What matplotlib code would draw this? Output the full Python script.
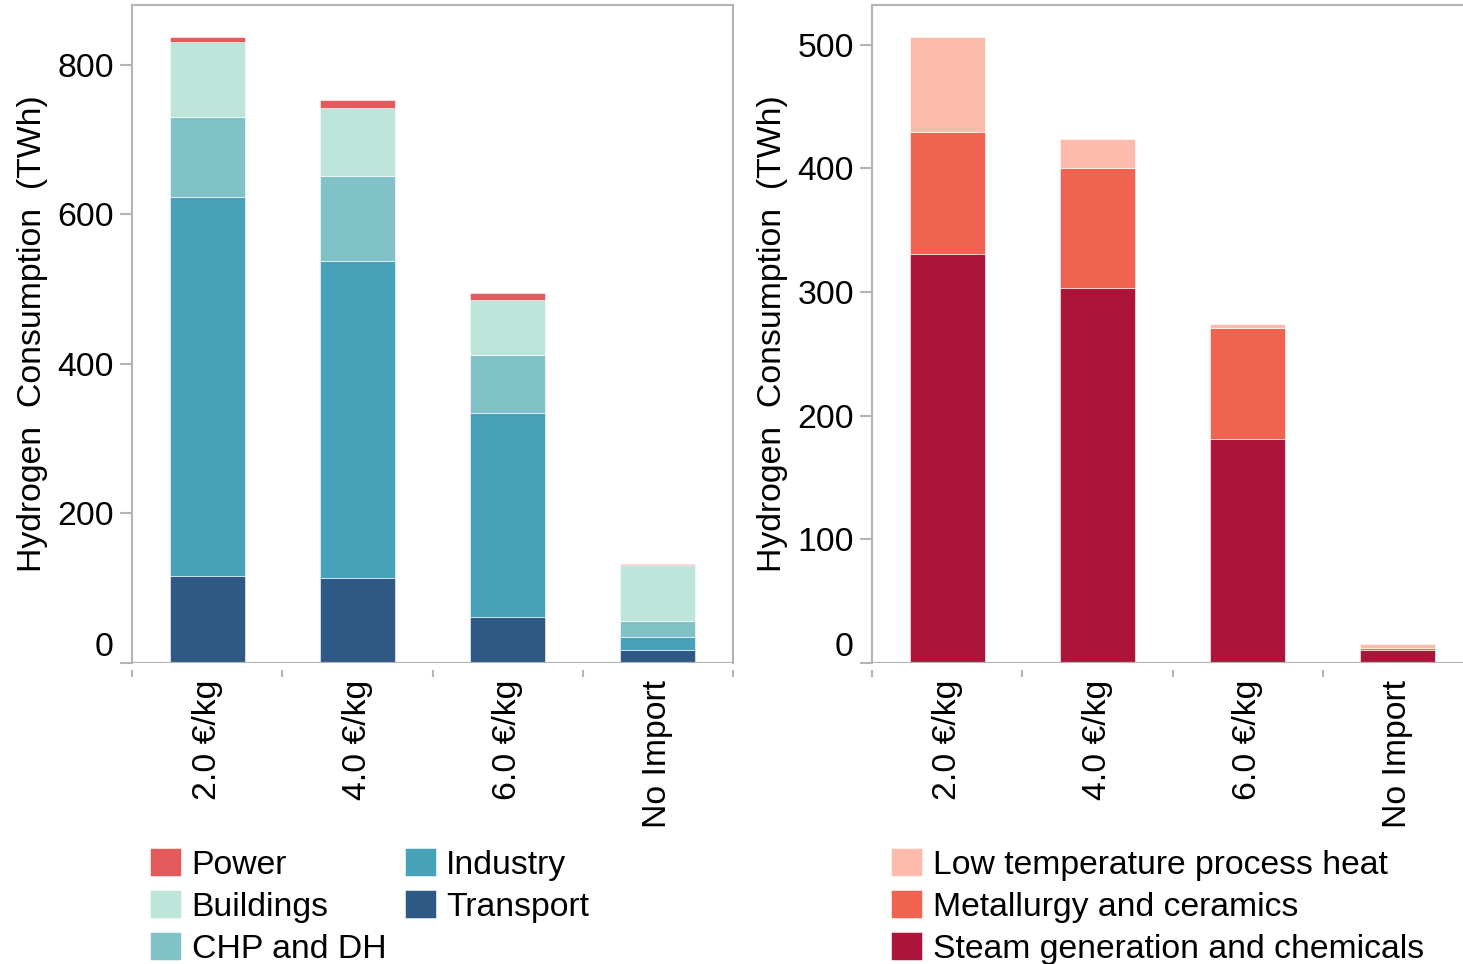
import matplotlib.pyplot as plt
import numpy as np

plt.rcParams['font.family'] = ['Liberation Sans', 'DejaVu Sans']

# Import price scenarios
scenarios = ['2.0 €/kg', '4.0 €/kg', '6.0 €/kg', 'No Import']

# Hydrogen consumption by sector (TWh)
transport = [116, 114, 62, 17]
industry = [507, 424, 272, 18]
chp_dh = [107, 113, 78, 21]
buildings = [101, 91, 74, 75]
power = [6, 11, 9, 2]

# Industrial hydrogen use by application (TWh)
steam_chem = [331, 303, 181, 10.5]
metallurgy = [98, 97, 90, 2]
low_temp = [77, 24, 3, 3]

sector_series = [
    ('Transport', transport, '#2E5984'),
    ('Industry', industry, '#47A2B9'),
    ('CHP and DH', chp_dh, '#80C2C8'),
    ('Buildings', buildings, '#BDE5D9'),
    ('Power', power, '#E35A5C'),
]
industry_series = [
    ('Steam generation and chemicals', steam_chem, '#AD1439'),
    ('Metallurgy and ceramics', metallurgy, '#F06350'),
    ('Low temperature process heat', low_temp, '#FDBBAE'),
]

W, H = 1463, 964
fig = plt.figure(figsize=(W / 100, H / 100), dpi=100)
ax1 = fig.add_axes([132 / W, 1 - 663 / H, (733 - 132) / W, (663 - 5) / H])
ax2 = fig.add_axes([872 / W, 1 - 663 / H, (1473 - 872) / W, (663 - 5) / H])

grey = '#b4b4b4'
fs = 24.3


def stacked(ax, series):
    x = np.arange(len(scenarios))
    bottom = np.zeros(len(scenarios))
    handles = {}
    for name, vals, color in series:
        b = ax.bar(x, vals, 0.5, bottom=bottom, color=color,
                   edgecolor='white', linewidth=0.4, label=name)
        handles[name] = b
        bottom += np.array(vals)
    return handles


def style(ax, ymax, yticks):
    ax.set_xlim(-0.5, 3.5)
    ax.set_ylim(0, ymax)
    for s in ['left', 'top', 'right']:
        ax.spines[s].set_color(grey)
        ax.spines[s].set_linewidth(1.5)
    ax.spines['bottom'].set_position(('outward', 5))
    ax.spines['bottom'].set_visible(False)
    ax.axhline(0, color=grey, lw=1.6, zorder=3)
    ax.axhline(0, color='white', lw=0.6, ls=(0, (1, 2)), zorder=3)

    ax.set_xticks(np.arange(-0.5, 3.6, 1.0))
    ax.set_xticklabels([])
    ax.set_xticks(np.arange(len(scenarios)), minor=True)
    ax.set_xticklabels(scenarios, minor=True, rotation=90, va='top',
                       fontsize=fs)
    ax.tick_params(axis='x', which='major', length=5, width=1.5,
                   color=grey, direction='out')
    ax.tick_params(axis='x', which='minor', length=0, pad=7)

    ax.set_yticks(yticks)
    ax.set_yticklabels([str(t) for t in yticks], fontsize=fs)
    ax.tick_params(axis='y', length=9, width=1.5, color=grey, pad=4)
    ax.get_yticklabels()[0].set_va('bottom')
    ax.set_ylabel('Hydrogen  Consumption  (TWh)', fontsize=fs, labelpad=7)


h1 = stacked(ax1, sector_series)
h2 = stacked(ax2, industry_series)
style(ax1, 880, [0, 200, 400, 600, 800])
style(ax2, 532, [0, 100, 200, 300, 400, 500])

order1 = ['Power', 'Buildings', 'CHP and DH', 'Industry', 'Transport']
fig.legend([h1[n] for n in order1], order1, ncol=2, frameon=False,
           loc='upper left', bbox_to_anchor=(150 / W, 1 - 848 / H),
           fontsize=fs, handlelength=0.93, handleheight=0.9,
           handletextpad=0.3, labelspacing=0.28, columnspacing=0.55,
           borderpad=0, borderaxespad=0)

order2 = ['Low temperature process heat', 'Metallurgy and ceramics',
          'Steam generation and chemicals']
fig.legend([h2[n] for n in order2], order2, ncol=1, frameon=False,
           loc='upper left', bbox_to_anchor=(891 / W, 1 - 848 / H),
           fontsize=fs, handlelength=0.93, handleheight=0.9,
           handletextpad=0.3, labelspacing=0.28,
           borderpad=0, borderaxespad=0)

fig.savefig('out.png', dpi=100, facecolor='white')
